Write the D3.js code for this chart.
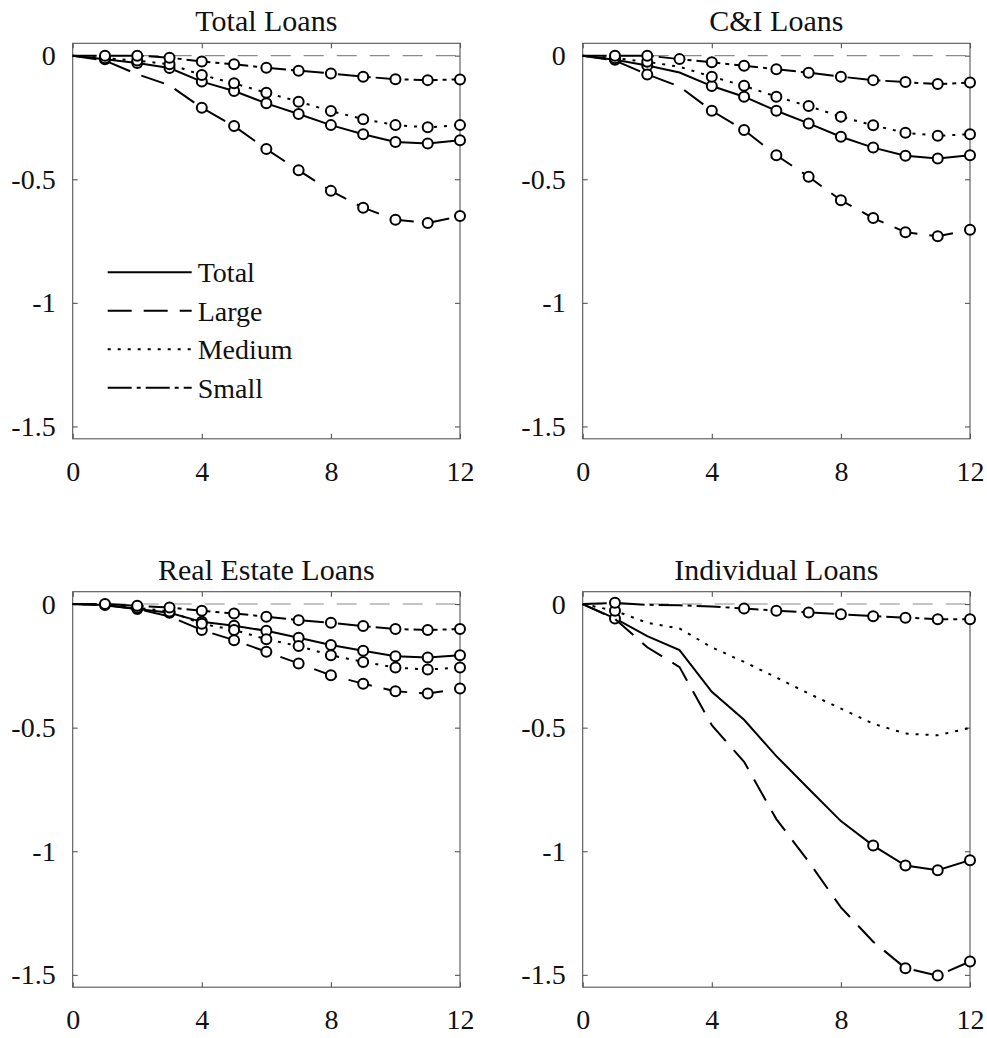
<!DOCTYPE html>
<html lang="en">
<head>
<meta charset="UTF-8">
<title>Loans responses</title>
<script src="https://d3js.org/d3.v7.min.js"></script>
<style>
body { margin: 0; background: #fff; }
svg { display: block; }
</style>
</head>
<body>
<div id="chart"></div>
<script>
// horizons and axis settings
var horizons = [0, 1, 2, 3, 4, 5, 6, 7, 8, 9, 10, 11, 12];
var xTicks = [0, 4, 8, 12];
var yTicks = [0, -0.5, -1, -1.5];
var yTickLabels = ["0", "-0.5", "-1", "-1.5"];
var panelTitles = ["Total Loans", "C&I Loans", "Real Estate Loans", "Individual Loans"];
var seriesNames = ["Total", "Large", "Medium", "Small"];

// Total Loans
var tlTotal  = [0, -0.015, -0.03, -0.05, -0.105, -0.143, -0.193, -0.236, -0.281, -0.318, -0.349, -0.355, -0.342];
var tlLarge  = [0, -0.02, -0.075, -0.12, -0.211, -0.285, -0.378, -0.464, -0.547, -0.615, -0.664, -0.677, -0.649];
var tlMedium = [0, -0.01, -0.02, -0.035, -0.078, -0.112, -0.15, -0.186, -0.224, -0.257, -0.281, -0.29, -0.281];
var tlSmall  = [0, 0, 0, -0.008, -0.024, -0.035, -0.049, -0.061, -0.072, -0.085, -0.095, -0.099, -0.096];
// C&I Loans
var ciTotal  = [0, -0.017, -0.04, -0.068, -0.123, -0.166, -0.223, -0.274, -0.328, -0.372, -0.405, -0.416, -0.403];
var ciLarge  = [0, -0.02, -0.076, -0.125, -0.223, -0.301, -0.403, -0.49, -0.585, -0.657, -0.714, -0.731, -0.704];
var ciMedium = [0, -0.01, -0.025, -0.045, -0.085, -0.122, -0.166, -0.204, -0.247, -0.282, -0.312, -0.324, -0.318];
var ciSmall  = [0, 0, 0, -0.014, -0.027, -0.041, -0.055, -0.069, -0.085, -0.099, -0.107, -0.115, -0.109];
// Real Estate Loans
var reTotal  = [0, -0.004, -0.02, -0.035, -0.072, -0.088, -0.108, -0.136, -0.166, -0.189, -0.211, -0.216, -0.207];
var reLarge  = [0, -0.005, -0.02, -0.05, -0.105, -0.146, -0.193, -0.24, -0.288, -0.322, -0.353, -0.362, -0.342];
var reMedium = [0, -0.003, -0.015, -0.03, -0.08, -0.105, -0.142, -0.17, -0.207, -0.234, -0.257, -0.265, -0.257];
var reSmall  = [0, 0, -0.007, -0.014, -0.027, -0.038, -0.051, -0.065, -0.076, -0.089, -0.101, -0.105, -0.101];
// Individual Loans
var inTotal  = [0, -0.058, -0.13, -0.186, -0.355, -0.468, -0.615, -0.747, -0.878, -0.977, -1.058, -1.077, -1.036];
var inLarge  = [0, -0.06, -0.175, -0.255, -0.49, -0.638, -0.87, -1.042, -1.227, -1.366, -1.473, -1.503, -1.446];
var inMedium = [0, -0.027, -0.076, -0.099, -0.175, -0.234, -0.297, -0.362, -0.423, -0.484, -0.524, -0.531, -0.501];
var inSmall  = [0, 0.005, -0.003, -0.005, -0.01, -0.018, -0.027, -0.034, -0.041, -0.049, -0.055, -0.061, -0.061];

// horizons that carry a circle marker
var tlTotalSig  = [1, 2, 3, 4, 5, 6, 7, 8, 9, 10, 11, 12];
var tlLargeSig  = [4, 5, 6, 7, 8, 9, 10, 11, 12];
var tlMediumSig = [1, 2, 3, 4, 5, 6, 7, 8, 9, 10, 11, 12];
var tlSmallSig  = [1, 2, 3, 4, 5, 6, 7, 8, 9, 10, 11, 12];
var ciTotalSig  = [1, 2, 4, 5, 6, 7, 8, 9, 10, 11, 12];
var ciLargeSig  = [2, 4, 5, 6, 7, 8, 9, 10, 11, 12];
var ciMediumSig = [1, 2, 4, 5, 6, 7, 8, 9, 10, 11, 12];
var ciSmallSig  = [1, 2, 3, 4, 5, 6, 7, 8, 9, 10, 11, 12];
var reTotalSig  = [1, 2, 3, 4, 5, 6, 7, 8, 9, 10, 11, 12];
var reLargeSig  = [4, 5, 6, 7, 8, 9, 10, 11, 12];
var reMediumSig = [2, 3, 4, 5, 6, 7, 8, 9, 10, 11, 12];
var reSmallSig  = [1, 2, 3, 4, 5, 6, 7, 8, 9, 10, 11, 12];
var inTotalSig  = [1, 9, 10, 11, 12];
var inLargeSig  = [10, 11, 12];
var inMediumSig = [1];
var inSmallSig  = [1, 5, 6, 7, 8, 9, 10, 11, 12];

var panels = [
  { title: panelTitles[0], vals: [tlTotal, tlLarge, tlMedium, tlSmall], sig: [tlTotalSig, tlLargeSig, tlMediumSig, tlSmallSig], legend: true },
  { title: panelTitles[1], vals: [ciTotal, ciLarge, ciMedium, ciSmall], sig: [ciTotalSig, ciLargeSig, ciMediumSig, ciSmallSig] },
  { title: panelTitles[2], vals: [reTotal, reLarge, reMedium, reSmall], sig: [reTotalSig, reLargeSig, reMediumSig, reSmallSig] },
  { title: panelTitles[3], vals: [inTotal, inLarge, inMedium, inSmall], sig: [inTotalSig, inLargeSig, inMediumSig, inSmallSig] }
];

var dashes = ["none", "24,12", "3,7", "24,5,4,5"];
var serif = "'Liberation Serif', 'Times New Roman', Times, 'DejaVu Serif', serif";

var W = 987, H = 1038;
var lefts = [72.7, 582.7], tops = [43.3, 591.7];
var pw = 387.3, ph = 395.5;

var svg = d3.select("#chart").append("svg")
    .attr("width", W)
    .attr("height", H)
    .attr("font-family", serif);

panels.forEach(function(p, i) {
  var ox = lefts[i % 2], oy = tops[Math.floor(i / 2)];
  var g = svg.append("g").attr("transform", "translate(" + ox + "," + oy + ")");

  var x = d3.scaleLinear().domain([0, 12]).range([0, pw]);
  var y = d3.scaleLinear().domain([-1.55, 0.05]).range([ph, 0]);

  // zero line
  g.append("line")
      .attr("x1", x(0)).attr("x2", x(12))
      .attr("y1", y(0)).attr("y2", y(0))
      .attr("stroke", "#8a8a8a")
      .attr("stroke-width", 1.1)
      .attr("stroke-dasharray", "20,13");

  // axes, ticks inward on all sides
  var ax = function(a, gt) {
    gt.call(a);
    gt.attr("font-family", serif).attr("font-size", 28);
    gt.select(".domain").remove();
    gt.selectAll(".tick line").attr("stroke", "#555").attr("stroke-width", 1.1);
    gt.selectAll("text").attr("fill", "#111");
  };
  ax(d3.axisBottom(x).tickValues(xTicks).tickSize(-5).tickPadding(22),
     g.append("g").attr("transform", "translate(0," + ph + ")"));
  ax(d3.axisTop(x).tickValues(xTicks).tickSize(-5).tickFormat(""), g.append("g"));
  ax(d3.axisLeft(y).tickValues(yTicks).tickSize(-5).tickPadding(17)
       .tickFormat(function(d, k) { return yTickLabels[k]; }), g.append("g"));
  ax(d3.axisRight(y).tickValues(yTicks).tickSize(-5).tickFormat(""),
     g.append("g").attr("transform", "translate(" + pw + ",0)"));

  g.append("rect")
      .attr("width", pw).attr("height", ph)
      .attr("fill", "none")
      .attr("stroke", "#555")
      .attr("stroke-width", 1.1);

  g.append("text")
      .attr("x", pw / 2).attr("y", -12)
      .attr("text-anchor", "middle")
      .attr("font-family", serif)
      .attr("font-size", 30)
      .attr("fill", "#111")
      .text(p.title);

  var line = d3.line()
      .x(function(d, k) { return x(horizons[k]); })
      .y(function(d) { return y(d); });

  p.vals.forEach(function(v, s) {
    g.append("path")
        .datum(v)
        .attr("d", line)
        .attr("fill", "none")
        .attr("stroke", "#000")
        .attr("stroke-width", 2)
        .attr("stroke-dasharray", dashes[s]);
    g.selectAll(null)
        .data(p.sig[s])
        .enter().append("circle")
        .attr("cx", function(h) { return x(h); })
        .attr("cy", function(h) { return y(v[horizons.indexOf(h)]); })
        .attr("r", 5)
        .attr("fill", "#fff")
        .attr("stroke", "#000")
        .attr("stroke-width", 2);
  });

  if (p.legend) {
    var lg = g.append("g").attr("transform", "translate(35,229)");
    seriesNames.forEach(function(name, s) {
      lg.append("line")
          .attr("x1", 0).attr("x2", 84)
          .attr("y1", s * 38.5).attr("y2", s * 38.5)
          .attr("stroke", "#000")
          .attr("stroke-width", 2)
          .attr("stroke-dasharray", dashes[s]);
      lg.append("text")
          .attr("x", 90).attr("y", s * 38.5)
          .attr("dy", "0.35em")
          .attr("font-family", serif)
          .attr("font-size", 28)
          .attr("fill", "#111")
          .text(name);
    });
  }
});
</script>
</body>
</html>
